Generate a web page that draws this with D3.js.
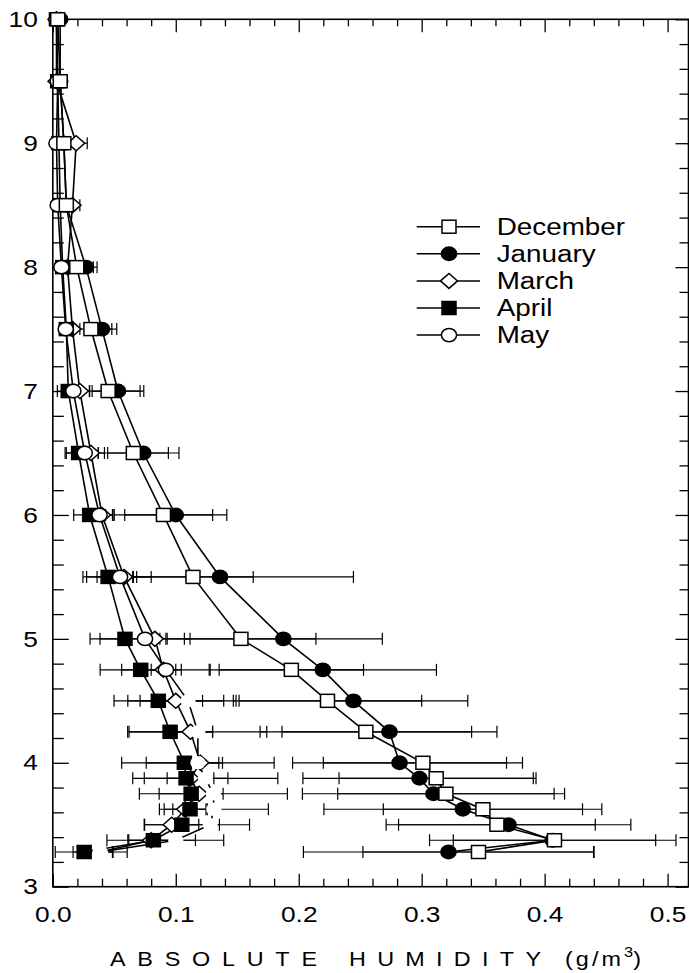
<!DOCTYPE html>
<html>
<head>
<meta charset="utf-8">
<script src="https://cdn.jsdelivr.net/npm/d3@7"></script>
<style>
  html, body { margin: 0; padding: 0; background: #fff; }
  svg { display: block; font-family: "Liberation Sans", Arial, Helvetica, sans-serif; }
</style>
</head>
<body>
<svg id="chart" width="689" height="973"></svg>
<script>
// Sounding levels (km) shared by every monthly profile
const levels = [10, 9.5, 9, 8.5, 8, 7.5, 7, 6.5, 6, 5.5, 5, 4.75, 4.5, 4.25, 4, 3.875, 3.75, 3.625, 3.5, 3.375, 3.28];

// Mean absolute humidity (g/m3) and its spread, per month
const december    = [0.004, 0.006, 0.009, 0.011, 0.0195, 0.031, 0.045, 0.0655, 0.090, 0.114, 0.153, 0.194, 0.2234, 0.2546, 0.301, 0.3118, 0.3197, 0.3498, 0.3612, 0.408, 0.3462];
const decemberErr = [0.001, 0.002, 0.003, 0.004, 0.0135, 0.017, 0.026, 0.0285, 0.040, 0.049, 0.061, 0.0587, 0.0766, 0.086, 0.081, 0.079, 0.088, 0.081, 0.080, 0.0823, 0.094];

const january     = [0.006, 0.006, 0.009, 0.011, 0.027, 0.040, 0.053, 0.0736, 0.100, 0.136, 0.1875, 0.2196, 0.2445, 0.2738, 0.282, 0.2982, 0.3096, 0.3335, 0.3706, 0.4066, 0.3218];
const januaryErr  = [0.001, 0.002, 0.003, 0.004, 0.009, 0.012, 0.021, 0.029, 0.0415, 0.1085, 0.0805, 0.0924, 0.093, 0.0874, 0.087, 0.0948, 0.1066, 0.113, 0.0995, 0.1002, 0.118];

const march       = [0.003, 0.003, 0.019, 0.016, 0.012, 0.016, 0.022, 0.031, 0.040, 0.058, 0.083, 0.090, 0.100, 0.112, 0.120, 0.112, 0.119, 0.1076, 0.0967, 0.080, 0.0385];
const marchErr    = [0.001, 0.001, 0.009, 0.006, 0.004, 0.006, 0.008, 0.006, 0.009, 0.022, 0.010, 0.010, 0.039, 0.018, 0.015, 0.019, 0.010, 0.017, 0.022, 0.036, 0.022];

const april       = [0.003, 0.004, 0.005, 0.006, 0.008, 0.011, 0.0126, 0.021, 0.030, 0.045, 0.0587, 0.0715, 0.0858, 0.0954, 0.107, 0.1084, 0.1125, 0.1116, 0.1049, 0.0818, 0.0255];
const aprilErr    = [0.001, 0.001, 0.002, 0.002, 0.003, 0.004, 0.0055, 0.010, 0.013, 0.0205, 0.0284, 0.033, 0.036, 0.0345, 0.031, 0.034, 0.026, 0.014, 0.0306, 0.020, 0.0235];

const may         = [0.003, 0.004, 0.003, 0.004, 0.007, 0.0105, 0.0167, 0.026, 0.038, 0.0547, 0.075, 0.092, 0.110, 0.118, 0.118, 0.124, 0.1306, 0.131, 0.128, 0.100, 0.0385];
const mayErr      = [0.001, 0.001, 0.002, 0.003, 0.004, 0.005, 0.013, 0.016, 0.0105, 0.0135, 0.0366, 0.036, 0.039, 0.056, 0.062, 0.059, 0.0602, 0.0443, 0.032, 0.039, 0.010];

const legendNames = ["December", "January", "March", "April", "May"];
const xTickValues = [0, 0.1, 0.2, 0.3, 0.4, 0.5];
const xTickLabels = ["0.0", "0.1", "0.2", "0.3", "0.4", "0.5"];
const yTickValues = [3, 4, 5, 6, 7, 8, 9, 10];
const yTickLabels = ["3", "4", "5", "6", "7", "8", "9", "10"];

// ---------------------------------------------------------------------------
const svg = d3.select("#chart");
const X0 = 52.8, X1 = 688.5, Y0 = 886.7, Y1 = 19.3;
const x = d3.scaleLinear().domain([0, 0.517]).range([X0, X1]);
const y = d3.scaleLinear().domain([3, 10]).range([Y0, Y1]);
const STRETCH = 1.17;   // glyphs are set slightly wide

const series = {
  December: { values: december, err: decemberErr, shape: "square",  fill: "#fff" },
  January:  { values: january,  err: januaryErr,  shape: "circle",  fill: "#000" },
  March:    { values: march,    err: marchErr,    shape: "diamond", fill: "#fff" },
  April:    { values: april,    err: aprilErr,    shape: "square",  fill: "#000" },
  May:      { values: may,      err: mayErr,      shape: "circle",  fill: "#fff" }
};
// plotting order: later profiles sit on top of earlier ones
const drawOrder = ["January", "March", "April", "May", "December"];
// below these levels the markers are drawn as plain white blanks
const outlineFloor = { May: 4.75, March: 3.3 };

function marker(g, shape, fill, stroke) {
  if (shape === "square") {
    g.append("rect").attr("x", -7).attr("y", -6.5).attr("width", 14).attr("height", 13)
      .attr("fill", fill).attr("stroke", stroke).attr("stroke-width", 1.5);
  } else if (shape === "circle") {
    g.append("ellipse").attr("rx", 7.6).attr("ry", 6.7)
      .attr("fill", fill).attr("stroke", stroke).attr("stroke-width", 1.5);
  } else {
    g.append("path").attr("d", "M-8.5,0L0,-7.5L8.5,0L0,7.5Z")
      .attr("fill", fill).attr("stroke", stroke).attr("stroke-width", 1.5);
  }
}

// Frame
svg.append("rect")
  .attr("x", X0).attr("y", Y1).attr("width", X1 - X0).attr("height", Y0 - Y1)
  .attr("fill", "none").attr("stroke", "#000").attr("stroke-width", 1.6);

// Tick positions
const xMinor = d3.range(1, 26).map(i => i * 0.02).filter(v => Math.round(v * 50) % 5 !== 0);
const yMinor = d3.range(16, 50).map(i => i * 0.2).filter(v => Math.abs(v - Math.round(v)) > 1e-6);

function cleanAxis(g) {
  g.attr("font-size", null).attr("font-family", null);
  g.select(".domain").remove();
  g.selectAll("line").attr("stroke", "#000").attr("stroke-width", 1.3);
}

// bottom
svg.append("g").attr("transform", `translate(0,${Y0})`)
  .call(d3.axisBottom(x).tickValues(xMinor).tickSizeInner(-8).tickSizeOuter(0).tickFormat(""))
  .call(cleanAxis);
const bottomMajor = svg.append("g").attr("transform", `translate(0,${Y0})`)
  .call(d3.axisBottom(x).tickValues(xTickValues).tickSizeInner(-13).tickSizeOuter(0).tickPadding(19)
    .tickFormat((d, i) => xTickLabels[i]))
  .call(cleanAxis);
bottomMajor.selectAll("text")
  .attr("font-size", 22.5).attr("fill", "#000")
  .attr("transform", `scale(${STRETCH},1)`);

// top
svg.append("g").attr("transform", `translate(0,${Y1})`)
  .call(d3.axisTop(x).tickValues(xMinor).tickSizeInner(-7).tickSizeOuter(0).tickFormat(""))
  .call(cleanAxis);
svg.append("g").attr("transform", `translate(0,${Y1})`)
  .call(d3.axisTop(x).tickValues(xTickValues).tickSizeInner(-13).tickSizeOuter(0).tickFormat(""))
  .call(cleanAxis);

// left
svg.append("g").attr("transform", `translate(${X0},0)`)
  .call(d3.axisLeft(y).tickValues(yMinor).tickSizeInner(-11).tickSizeOuter(0).tickFormat(""))
  .call(cleanAxis);
const leftMajor = svg.append("g").attr("transform", `translate(${X0},0)`)
  .call(d3.axisLeft(y).tickValues(yTickValues).tickSizeInner(-16).tickSizeOuter(0).tickPadding(15)
    .tickFormat((d, i) => yTickLabels[i]))
  .call(cleanAxis);
leftMajor.selectAll("text")
  .attr("font-size", 22.5).attr("fill", "#000")
  .attr("x", -15 / STRETCH)
  .attr("transform", `scale(${STRETCH},1)`);

// right
svg.append("g").attr("transform", `translate(${X1},0)`)
  .call(d3.axisRight(y).tickValues(yMinor).tickSizeInner(-9).tickSizeOuter(0).tickFormat(""))
  .call(cleanAxis);
svg.append("g").attr("transform", `translate(${X1},0)`)
  .call(d3.axisRight(y).tickValues(yTickValues).tickSizeInner(-13).tickSizeOuter(0).tickFormat(""))
  .call(cleanAxis);

// Horizontal error bars with end caps
const barLayer = svg.append("g").attr("stroke", "#000").attr("stroke-width", 1.2);
drawOrder.forEach(name => {
  const s = series[name];
  levels.forEach((lv, i) => {
    const lo = x(s.values[i] - s.err[i]), hi = x(s.values[i] + s.err[i]), yy = y(lv);
    barLayer.append("line").attr("x1", lo).attr("x2", hi).attr("y1", yy).attr("y2", yy);
    barLayer.append("line").attr("x1", lo).attr("x2", lo).attr("y1", yy - 6).attr("y2", yy + 6);
    barLayer.append("line").attr("x1", hi).attr("x2", hi).attr("y1", yy - 6).attr("y2", yy + 6);
  });
});

// Profile lines
const line = d3.line().x(d => x(d[0])).y(d => y(d[1]));
const lineLayer = svg.append("g");
drawOrder.forEach(name => {
  const s = series[name];
  lineLayer.append("path")
    .attr("d", line(levels.map((lv, i) => [s.values[i], lv])))
    .attr("fill", "none").attr("stroke", "#000").attr("stroke-width", 1.6);
});

// Markers
const markLayer = svg.append("g");
drawOrder.forEach(name => {
  const s = series[name];
  const floor = outlineFloor[name];
  levels.forEach((lv, i) => {
    const g = markLayer.append("g").attr("transform", `translate(${x(s.values[i])},${y(lv)})`);
    const stroke = (floor !== undefined && lv < floor) ? "none" : "#000";
    marker(g, s.shape, s.fill, stroke);
  });
});

// Legend
const legend = svg.append("g");
legendNames.forEach((name, i) => {
  const s = series[name];
  const ry = 226.7 + i * 27.1;
  legend.append("line").attr("x1", 416.7).attr("x2", 480).attr("y1", ry).attr("y2", ry)
    .attr("stroke", "#000").attr("stroke-width", 1.5);
  const g = legend.append("g").attr("transform", `translate(449,${ry})`);
  marker(g, s.shape, s.fill, "#000");
  legend.append("text")
    .attr("transform", `translate(496.7,${ry + 8.2}) scale(1.21,1)`)
    .attr("font-size", 23).attr("fill", "#000")
    .text(name);
});

// Axis title (letter-spaced words, set slightly wide)
const title = svg.append("text")
  .attr("transform", `scale(${STRETCH},1)`)
  .attr("y", 966).attr("font-size", 20).attr("fill", "#000");
title.append("tspan").attr("x", 110 / STRETCH).attr("textLength", 207 / STRETCH)
  .attr("lengthAdjust", "spacing").text("ABSOLUTE");
title.append("tspan").attr("x", 349 / STRETCH).attr("textLength", 192 / STRETCH)
  .attr("lengthAdjust", "spacing").text("HUMIDITY");
title.append("tspan").attr("x", 565 / STRETCH).attr("textLength", 56 / STRETCH)
  .attr("lengthAdjust", "spacing").text("(g/m");
title.append("tspan").attr("dy", -9).attr("font-size", 14).text("3");
title.append("tspan").attr("dy", 9).text(")");
</script>
</body>
</html>
